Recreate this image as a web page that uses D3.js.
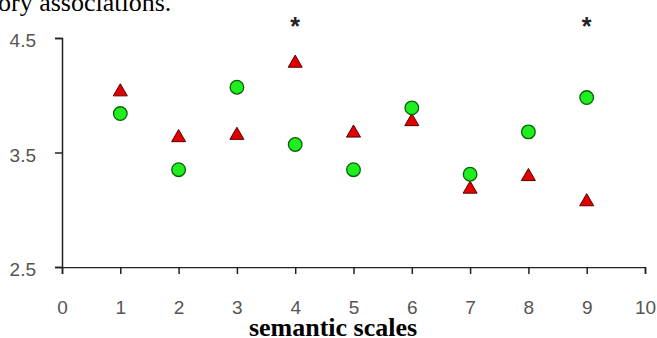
<!DOCTYPE html>
<html>
<head>
<meta charset="utf-8">
<script src="https://d3js.org/d3.v7.min.js"></script>
<style>
  body { margin: 0; background: #fff; }
  svg { display: block; }
</style>
</head>
<body>
<svg width="657" height="338"></svg>
<script>
// Values
var scales = [1, 2, 3, 4, 5, 6, 7, 8, 9];
var triangleVals = [4.03, 3.63, 3.65, 4.28, 3.67, 3.77, 3.18, 3.29, 3.07];
var circleVals = [3.84, 3.35, 4.07, 3.57, 3.35, 3.89, 3.31, 3.68, 3.98];
var significant = [4, 9];
var xTicks = [0, 1, 2, 3, 4, 5, 6, 7, 8, 9, 10];
var yTicks = [2.5, 3.5, 4.5];

var svg = d3.select("svg"),
    width = +svg.attr("width"),
    height = +svg.attr("height");

var x = d3.scaleLinear().domain([0, 10]).range([62, 645]);
var y = d3.scaleLinear().domain([2.5, 4.5]).range([267, 38]);

// Caption text cut off at the top of the picture
svg.append("text")
    .attr("x", -2)
    .attr("y", 11)
    .style("font-family", "'Liberation Serif', 'Times New Roman', serif")
    .style("font-size", "26px")
    .attr("fill", "#000")
    .text("ory associations.");

// clip the x tick labels, the bottom of them is hidden under the title
svg.append("clipPath")
    .attr("id", "xclip")
  .append("rect")
    .attr("x", 0).attr("y", 0)
    .attr("width", width).attr("height", 311);

var yAxis = svg.append("g")
    .attr("transform", "translate(" + x(0) + ",0)")
    .call(d3.axisLeft(y).tickValues(yTicks).tickSize(7).tickPadding(19)
      .tickFormat(d3.format(".1f")));

var xAxis = svg.append("g")
    .attr("transform", "translate(0," + y(2.5) + ")")
    .attr("clip-path", "url(#xclip)")
    .call(d3.axisBottom(x).tickValues(xTicks).tickSize(7).tickPadding(27)
      .tickFormat(d3.format("d")));

[yAxis, xAxis].forEach(function(a) {
  a.select(".domain").attr("stroke", "#222").attr("stroke-width", 1.5);
  a.selectAll(".tick line").attr("stroke", "#222").attr("stroke-width", 1.5);
  a.selectAll(".tick text")
      .attr("fill", "#555")
      .style("font-family", "'Liberation Sans', Arial, sans-serif")
      .style("font-size", "19px");
});
yAxis.selectAll(".tick text").attr("dy", "0.45em");

// red triangles
svg.append("g")
  .selectAll("path")
  .data(scales)
  .enter().append("path")
    .attr("d", d3.symbol().type(d3.symbolTriangle).size(85))
    .attr("transform", function(d, i) {
      return "translate(" + x(d) + "," + y(triangleVals[i]) + ")";
    })
    .attr("fill", "#e00000")
    .attr("stroke", "#5a0000")
    .attr("stroke-width", 1);

// green circles on top
svg.append("g")
  .selectAll("circle")
  .data(scales)
  .enter().append("circle")
    .attr("cx", function(d) { return x(d); })
    .attr("cy", function(d, i) { return y(circleVals[i]); })
    .attr("r", 6.8)
    .attr("fill", "#1fef1f")
    .attr("stroke", "#0b5e0b")
    .attr("stroke-width", 1.3);

// significance marks
svg.append("g")
  .selectAll("text")
  .data(significant)
  .enter().append("text")
    .attr("x", function(d) { return x(d); })
    .attr("y", 35)
    .attr("text-anchor", "middle")
    .attr("fill", "#222")
    .style("font-family", "'Liberation Sans', Arial, sans-serif")
    .style("font-size", "25px")
    .style("font-weight", "bold")
    .text("*");

// axis title
svg.append("text")
    .attr("x", 333)
    .attr("y", 336)
    .attr("text-anchor", "middle")
    .style("font-family", "'Liberation Serif', 'Times New Roman', serif")
    .style("font-size", "26px")
    .style("font-weight", "bold")
    .text("semantic scales");
</script>
</body>
</html>
